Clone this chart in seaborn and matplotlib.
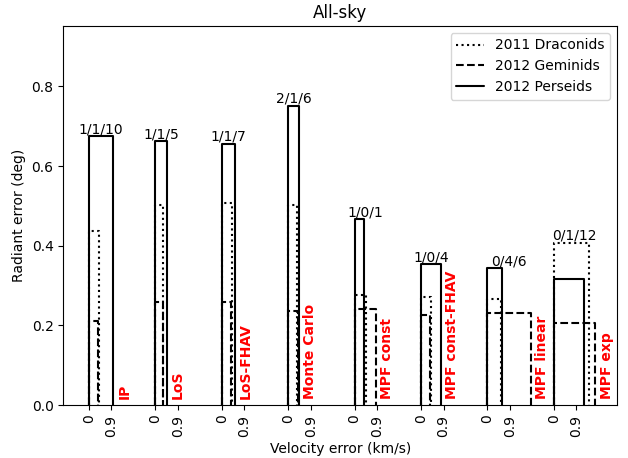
import numpy as np
import pandas as pd
import matplotlib
matplotlib.use("Agg")
import matplotlib.pyplot as plt
from matplotlib.lines import Line2D
import seaborn as sns

# Solver names and the per-shower failure counts (Draconids/Geminids/Perseids)
methods = ["IP", "LoS", "LoS-FHAV", "Monte Carlo", "MPF const",
           "MPF const-FHAV", "MPF linear", "MPF exp"]
fail_counts = ["1/1/10", "1/1/5", "1/1/7", "2/1/6", "1/0/1", "1/0/4", "0/4/6", "0/1/12"]

# Radiant error (deg) and velocity error (km/s) for each shower
draconids_rad = [0.437, 0.503, 0.507, 0.503, 0.275, 0.272, 0.265, 0.408]
draconids_vel = [0.40, 0.31, 0.41, 0.37, 0.44, 0.40, 0.55, 1.41]
geminids_rad = [0.211, 0.258, 0.259, 0.237, 0.240, 0.226, 0.231, 0.206]
geminids_vel = [0.37, 0.30, 0.37, 0.40, 0.84, 0.37, 1.75, 1.66]
perseids_rad = [0.675, 0.662, 0.656, 0.752, 0.466, 0.354, 0.344, 0.317]
perseids_vel = [0.97, 0.45, 0.52, 0.45, 0.37, 0.80, 0.60, 1.20]

vel_ticks = [0, 0.9]
vel_tick_labels = ["0", "0.9"]

sns.set_style("ticks", rc={
    "axes.edgecolor": "black",
    "text.color": "black",
    "axes.labelcolor": "black",
    "xtick.color": "black",
    "ytick.color": "black",
})

fig = plt.figure(figsize=(6.28, 4.58), dpi=100)
ax = fig.add_axes([0.1008, 0.1157, 0.8817, 0.8278])

group_step = 2.646
offsets = np.arange(len(methods)) * group_step

shower_names = ["2011 Draconids", "2012 Geminids", "2012 Perseids"]
shower_rad = [draconids_rad, geminids_rad, perseids_rad]
shower_vel = [draconids_vel, geminids_vel, perseids_vel]
dash_map = {"2011 Draconids": (1, 1.65), "2012 Geminids": (3.7, 1.6),
            "2012 Perseids": ""}
ls_map = {"2011 Draconids": ":", "2012 Geminids": "--", "2012 Perseids": "-"}

rows = []
outline = []
for name, rad, vel in zip(shower_names, shower_rad, shower_vel):
    for m, off, r, v in zip(methods, offsets, rad, vel):
        rows.append({"shower": name, "method": m, "offset": off,
                     "radiant": r, "velocity": v})
        # open box: up the left side, across the top, down the right side
        unit = f"{name}|{m}"
        for k, (px, py) in enumerate([(off, 0.0), (off, r), (off + v, r), (off + v, 0.0)]):
            outline.append({"shower": name, "unit": unit, "k": k, "x": px, "y": py})
df = pd.DataFrame(rows)
outline_df = pd.DataFrame(outline)

sns.lineplot(data=outline_df, x="x", y="y", style="shower", units="unit",
             estimator=None, sort=False, color="black", linewidth=1.5,
             style_order=shower_names, dashes=dash_map, legend=False, ax=ax)

# Failure counts above each group, method names beside it
for m, lab, off in zip(methods, fail_counts, offsets):
    g = df[df["method"] == m]
    top = g["radiant"].max()
    width = g["velocity"].max()
    ax.text(off + width / 2, top, lab, ha="center", va="bottom", fontsize=10)
    ax.text(off + width + 0.44, 0.015, m, rotation=90, ha="center", va="bottom",
            color="red", fontweight="bold", fontsize=10)

xt = np.concatenate([off + np.array(vel_ticks) for off in offsets])
xl = vel_tick_labels * len(methods)
ax.set_xticks(xt)
ax.set_xticklabels(xl, rotation=90)
ax.set_xlim(-1.02, 21.04)
ax.set_ylim(0, 0.952)
ax.set_yticks([0.0, 0.2, 0.4, 0.6, 0.8])

ax.set_xlabel("Velocity error (km/s)")
ax.set_ylabel("Radiant error (deg)")
ax.set_title("All-sky")

handles = [Line2D([], [], color="black", linestyle=ls_map[n], linewidth=1.5)
           for n in shower_names]
ax.legend(handles, shower_names, loc="upper right")

fig.savefig("out.png", dpi=100)
